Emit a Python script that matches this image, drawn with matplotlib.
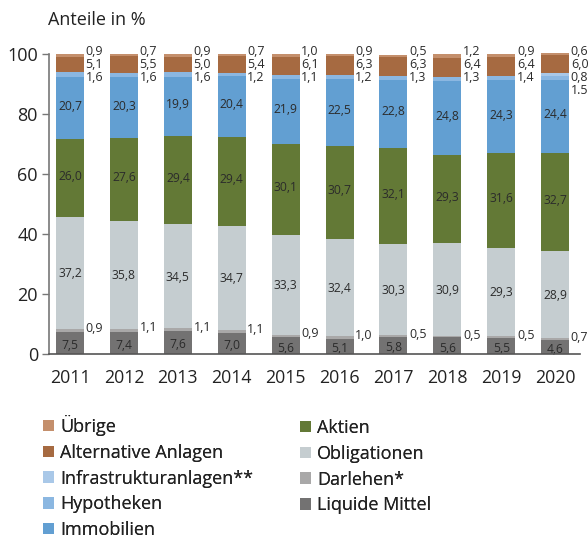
import matplotlib
matplotlib.use("Agg")
import matplotlib.pyplot as plt
from matplotlib.patches import Patch
import numpy as np

plt.rcParams['font.family'] = ['Open Sans', 'DejaVu Sans']

years = ["2011", "2012", "2013", "2014", "2015", "2016", "2017", "2018", "2019", "2020"]
liquide = [7.5, 7.4, 7.6, 7.0, 5.6, 5.1, 5.8, 5.6, 5.5, 4.6]
darlehen = [0.9, 1.1, 1.1, 1.1, 0.9, 1.0, 0.5, 0.5, 0.5, 0.7]
obligationen = [37.2, 35.8, 34.5, 34.7, 33.3, 32.4, 30.3, 30.9, 29.3, 28.9]
aktien = [26.0, 27.6, 29.4, 29.4, 30.1, 30.7, 32.1, 29.3, 31.6, 32.7]
immobilien = [20.7, 20.3, 19.9, 20.4, 21.9, 22.5, 22.8, 24.8, 24.3, 24.4]
hypotheken = [1.6, 1.6, 1.6, 1.2, 1.1, 1.2, 1.3, 1.3, 1.4, 1.5]
infrastruktur = [0, 0, 0, 0, 0, 0, 0, 0, 0, 0.8]
alternative = [5.1, 5.5, 5.0, 5.4, 6.1, 6.3, 6.3, 6.4, 6.4, 6.0]
uebrige = [0.9, 0.7, 0.9, 0.7, 1.0, 0.9, 0.5, 1.2, 0.9, 0.6]

series = [
    ("Liquide Mittel", liquide, "#737272"),
    ("Darlehen*", darlehen, "#a9a8a8"),
    ("Obligationen", obligationen, "#c5cdd0"),
    ("Aktien", aktien, "#637936"),
    ("Immobilien", immobilien, "#629fd2"),
    ("Hypotheken", hypotheken, "#8bb7e1"),
    ("Infrastrukturanlagen**", infrastruktur, "#a9c8e8"),
    ("Alternative Anlagen", alternative, "#a66a41"),
    ("Übrige", uebrige, "#c48f6c"),
]

def fmt(v, year=None, name=None):
    s = f"{v:.1f}"
    if year == "2020" and name == "Hypotheken":
        return s
    return s.replace(".", ",")

W, H = 588, 541
fig = plt.figure(figsize=(W / 100, H / 100), dpi=100)
ax = fig.add_axes([49 / W, 1 - 354 / H, (580 - 49) / W, (354 - 54) / H])

x = np.arange(len(years))
bw = 0.52
bottom = np.zeros(len(years))
bars = {}
for name, vals, col in series:
    v = np.array(vals, dtype=float)
    ax.bar(x, v, bw, bottom=bottom, color=col, edgecolor="none", clip_on=False, zorder=2)
    bars[name] = (bottom.copy(), v)
    bottom = bottom + v

lab_col = "#2b2b2b"
offsets = {"Liquide Mittel": -0.8, "Obligationen": -0.3, "Aktien": 0.6, "Immobilien": 0.6}
for name, off in offsets.items():
    b, v = bars[name]
    for i in range(len(years)):
        ax.text(x[i], b[i] + v[i] / 2 + off, fmt(v[i]), ha="center", va="center",
                fontsize=8.7, color=lab_col, zorder=3)

# Darlehen labels to the right
b, v = bars["Darlehen*"]
for i in range(len(years)):
    ax.text(x[i] + bw / 2 + 0.03, b[i] + v[i] + 0.2, fmt(v[i]), ha="left", va="center",
            fontsize=9, color=lab_col)

# top labels
top_order = ["Übrige", "Alternative Anlagen", "Infrastrukturanlagen**", "Hypotheken"]
for i in range(len(years)):
    k = 0
    for name in top_order:
        b, v = bars[name]
        if v[i] == 0:
            continue
        ax.text(x[i] + bw / 2 + 0.03, 100.7 - 4.3 * k, fmt(v[i], years[i], name), ha="left",
                va="center", fontsize=9, color=lab_col, clip_on=False)
        k += 1

ax.set_xlim(-0.39, 9.46)
ax.set_ylim(0, 100)
ax.set_yticks([0, 20, 40, 60, 80, 100])
ax.set_xticks(x)
ax.set_xticklabels(years)
ax.tick_params(axis="x", length=0, pad=11, labelsize=12.8, labelcolor="#222222")
ax.tick_params(axis="y", length=5, width=1, color="#777777", pad=3, labelsize=13,
               labelcolor="#222222")
for s in ["top", "right"]:
    ax.spines[s].set_visible(False)
ax.spines["left"].set_color("#777777")
ax.spines["left"].set_linewidth(1.2)
ax.spines["bottom"].set_color("#555555")
ax.spines["bottom"].set_linewidth(1.2)
ax.spines["bottom"].set_zorder(4)

fig.text(48 / W, 1 - 20 / H, "Anteile in %", fontsize=13, color="#222222", ha="left", va="center")

colmap = {n: c for n, _, c in series}
col1 = ["Übrige", "Alternative Anlagen", "Infrastrukturanlagen**", "Hypotheken", "Immobilien"]
col2 = ["Aktien", "Obligationen", "Darlehen*", "Liquide Mittel"]
for names, x0, y0 in ((col1, 43, 415), (col2, 300, 419)):
    handles = [Patch(facecolor=colmap[n], edgecolor="none") for n in names]
    leg = fig.legend(handles, names, loc="upper left", bbox_to_anchor=(x0 / W, 1 - y0 / H),
                     frameon=False, fontsize=13, handlelength=0.6, handleheight=0.6,
                     handletextpad=0.35, labelspacing=0.43, borderpad=0, borderaxespad=0,
                     labelcolor="#222222")
    fig.add_artist(leg)

fig.savefig("out.png", dpi=100)
